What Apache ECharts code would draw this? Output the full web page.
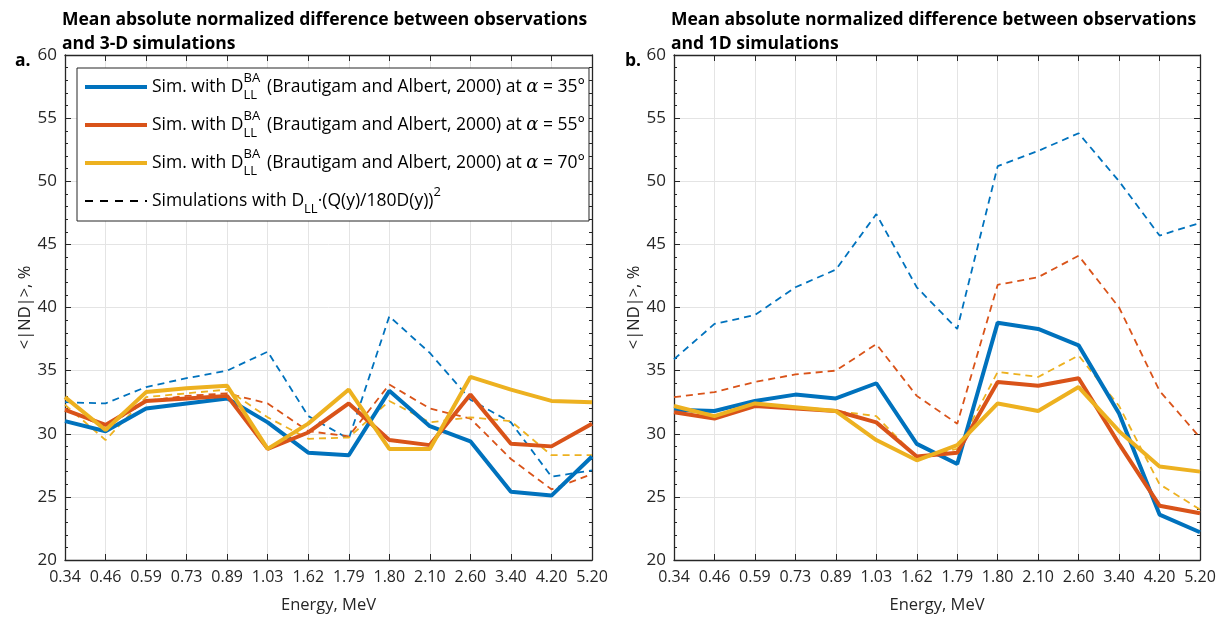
<!DOCTYPE html>
<html>
<head>
<meta charset="utf-8">
<script src="https://cdn.jsdelivr.net/npm/echarts@6/dist/echarts.min.js"></script>
<style>
  html, body { margin: 0; padding: 0; background: #fff; }
  #chart { width: 1229px; height: 621px; }
</style>
</head>
<body>
<div id="chart"></div>
<script>
// energies (categories)
var energies = ['0.34', '0.46', '0.59', '0.73', '0.89', '1.03', '1.62', '1.79', '1.80', '2.10', '2.60', '3.40', '4.20', '5.20'];

// panel a: 3-D simulations
var a35 = [31.0, 30.2, 32.0, 32.4, 32.8, 30.9, 28.5, 28.3, 33.4, 30.6, 29.4, 25.4, 25.1, 28.2];
var a55 = [31.9, 30.7, 32.6, 32.8, 33.0, 28.8, 30.1, 32.4, 29.5, 29.1, 33.1, 29.2, 29.0, 30.8];
var a70 = [32.9, 30.3, 33.3, 33.6, 33.8, 28.8, 30.8, 33.5, 28.8, 28.8, 34.5, 33.5, 32.6, 32.5];
var a35q = [32.5, 32.4, 33.7, 34.4, 35.0, 36.5, 31.4, 29.6, 39.3, 36.4, 32.7, 30.9, 26.6, 27.1];
var a55q = [32.0, 30.5, 32.6, 33.0, 33.2, 32.4, 30.2, 29.8, 33.9, 32.0, 31.2, 28.0, 25.6, 26.8];
var a70q = [32.3, 29.5, 32.9, 33.2, 33.5, 31.3, 29.6, 29.7, 32.6, 30.9, 31.3, 31.0, 28.3, 28.3];

// panel b: 1D simulations
var b35 = [31.9, 31.8, 32.6, 33.1, 32.8, 34.0, 29.2, 27.6, 38.8, 38.3, 37.0, 31.6, 23.6, 22.2];
var b55 = [31.7, 31.2, 32.2, 32.0, 31.8, 30.9, 28.2, 28.5, 34.1, 33.8, 34.4, 29.2, 24.3, 23.7];
var b70 = [32.2, 31.4, 32.4, 32.1, 31.8, 29.5, 27.9, 29.1, 32.4, 31.8, 33.7, 30.2, 27.4, 27.0];
var b35q = [35.9, 38.7, 39.4, 41.6, 43.0, 47.4, 41.6, 38.3, 51.2, 52.4, 53.8, 50.0, 45.7, 46.7];
var b55q = [32.9, 33.3, 34.1, 34.7, 35.0, 37.1, 33.0, 30.8, 41.8, 42.4, 44.1, 40.0, 33.4, 29.7];
var b70q = [32.0, 31.4, 32.4, 32.0, 31.8, 31.4, 28.1, 28.8, 34.9, 34.5, 36.2, 32.2, 26.0, 24.0];

var yTicks = [20, 25, 30, 35, 40, 45, 50, 55, 60];

var colors = ['#0072BD', '#D95319', '#EDB120'];
var names = ['Sim. 35', 'Sim. 55', 'Sim. 70'];
var dashName = 'Simulations dashed';
var FONT = 'Open Sans';

var legendText = {
  'Sim. 35': 'Sim. with D{sup|BA}{sub|LL} (Brautigam and Albert, 2000) at {it|α} = 35°',
  'Sim. 55': 'Sim. with D{sup|BA}{sub|LL} (Brautigam and Albert, 2000) at {it|α} = 55°',
  'Sim. 70': 'Sim. with D{sup|BA}{sub|LL} (Brautigam and Albert, 2000) at {it|α} = 70°',
  'Simulations dashed': 'Simulations with D{sub2|LL}·(Q(y)/180D(y)){sup2|2}'
};

var chart = echarts.init(document.getElementById('chart'));

var grids = [
  { left: 65, right: 637, top: 55, bottom: 61 },
  { left: 674, right: 29, top: 55, bottom: 61 }
];

var axisColor = '#262626';
var gridColor = '#e4e4e4';

function xAxes(gi) {
  return [{
    type: 'category', gridIndex: gi, data: energies, boundaryGap: false,
    position: 'bottom',
    axisLine: { lineStyle: { color: axisColor, width: 1.3 } },
    axisTick: { inside: true, length: 6, lineStyle: { color: axisColor } },
    axisLabel: { color: '#262626', fontSize: 16, fontFamily: FONT, margin: 9, interval: 0 },
    splitLine: { show: true, lineStyle: { color: gridColor } },
    name: 'Energy, MeV', nameLocation: 'middle', nameGap: 37,
    nameTextStyle: { color: '#262626', fontSize: 16.5, fontFamily: FONT }
  }, {
    type: 'category', gridIndex: gi, data: energies, boundaryGap: false,
    position: 'top',
    axisLine: { lineStyle: { color: axisColor, width: 1.3 } },
    axisTick: { inside: true, length: 6, lineStyle: { color: axisColor } },
    axisLabel: { show: false },
    splitLine: { show: false }
  }];
}

function yAxes(gi) {
  var common = {
    type: 'value', gridIndex: gi, min: 20, max: 60, interval: 5,
    axisLine: { show: true, lineStyle: { color: axisColor, width: 1.3 } },
    axisTick: { show: true, inside: true, length: 6, lineStyle: { color: axisColor } },
    minorTick: { show: true, splitNumber: 5, length: 3, lineStyle: { color: axisColor } }
  };
  return [Object.assign({}, common, {
    position: 'left',
    axisLabel: {
      color: '#262626', fontSize: 17, fontFamily: FONT, margin: 8,
      formatter: function (v) { return yTicks.indexOf(v) >= 0 ? String(v) : ''; }
    },
    splitLine: { show: true, lineStyle: { color: gridColor } },
    name: '<|ND|>, %', nameLocation: 'middle', nameGap: 31, nameRotate: 90,
    nameTextStyle: { color: '#262626', fontSize: 16.5, fontFamily: FONT }
  }), Object.assign({}, common, {
    position: 'right',
    axisLabel: { show: false },
    splitLine: { show: false }
  })];
}

function solid(name, data, ci, gi) {
  return {
    type: 'line', name: name, data: data, xAxisIndex: gi * 2, yAxisIndex: gi * 2,
    symbol: 'none', smooth: false, z: 3,
    lineStyle: { color: colors[ci], width: 4 }, itemStyle: { color: colors[ci] }
  };
}
function dashed(name, data, ci, gi) {
  return {
    type: 'line', name: name, data: data, xAxisIndex: gi * 2, yAxisIndex: gi * 2,
    symbol: 'none', smooth: false, z: 2,
    lineStyle: { color: colors[ci], width: 1.8, type: [7, 5] }, itemStyle: { color: colors[ci] }
  };
}

var series = [
  solid(names[0], a35, 0, 0), solid(names[1], a55, 1, 0), solid(names[2], a70, 2, 0),
  dashed('a35q', a35q, 0, 0), dashed('a55q', a55q, 1, 0), dashed('a70q', a70q, 2, 0),
  solid(names[0], b35, 0, 1), solid(names[1], b55, 1, 1), solid(names[2], b70, 2, 1),
  dashed('b35q', b35q, 0, 1), dashed('b55q', b55q, 1, 1), dashed('b70q', b70q, 2, 1),
  // legend-only entry for the dashed style
  {
    type: 'line', name: dashName, data: [], xAxisIndex: 0, yAxisIndex: 0, symbol: 'none',
    lineStyle: { color: '#000', width: 2, type: [8, 7] }, itemStyle: { color: '#000' }
  }
];

var titleStyle = { color: '#000', fontSize: 17.5, fontWeight: 'bold', fontFamily: FONT, lineHeight: 24 };

chart.setOption({
  backgroundColor: '#ffffff',
  animation: false,
  title: [
    { text: 'Mean absolute normalized difference between observations\nand 3-D simulations', left: 57, top: 3, textStyle: titleStyle },
    { text: 'Mean absolute normalized difference between observations\nand 1D simulations', left: 666, top: 3, textStyle: titleStyle },
    { text: 'a.', left: 10, top: 44, textStyle: titleStyle },
    { text: 'b.', left: 620, top: 44, textStyle: titleStyle }
  ],
  grid: grids,
  xAxis: xAxes(0).concat(xAxes(1)),
  yAxis: yAxes(0).concat(yAxes(1)),
  legend: {
    data: names.concat([dashName]),
    orient: 'vertical',
    left: 77, top: 68,
    padding: [4, 4, 5, 6],
    itemWidth: 62, itemHeight: 14, itemGap: 8,
    backgroundColor: '#ffffff',
    borderColor: '#262626', borderWidth: 1, borderRadius: 0,
    selectedMode: false,
    itemStyle: { opacity: 0 },
    lineStyle: { width: 'inherit' },
    formatter: function (n) { return legendText[n]; },
    textStyle: {
      color: '#000', fontSize: 17.5, fontFamily: FONT, lineHeight: 30,
      rich: {
        sup: { fontSize: 13, fontFamily: FONT, lineHeight: 13, verticalAlign: 'top', width: 0, color: '#000' },
        sub: { fontSize: 13, fontFamily: FONT, lineHeight: 13, verticalAlign: 'bottom', width: 19, color: '#000' },
        sub2: { fontSize: 13, fontFamily: FONT, lineHeight: 13, verticalAlign: 'bottom', color: '#000' },
        sup2: { fontSize: 13, fontFamily: FONT, lineHeight: 13, verticalAlign: 'top', color: '#000' },
        it: { fontSize: 18, fontFamily: 'DejaVu Serif', fontStyle: 'italic', lineHeight: 30, color: '#000' }
      }
    }
  },
  series: series
});
</script>
</body>
</html>
